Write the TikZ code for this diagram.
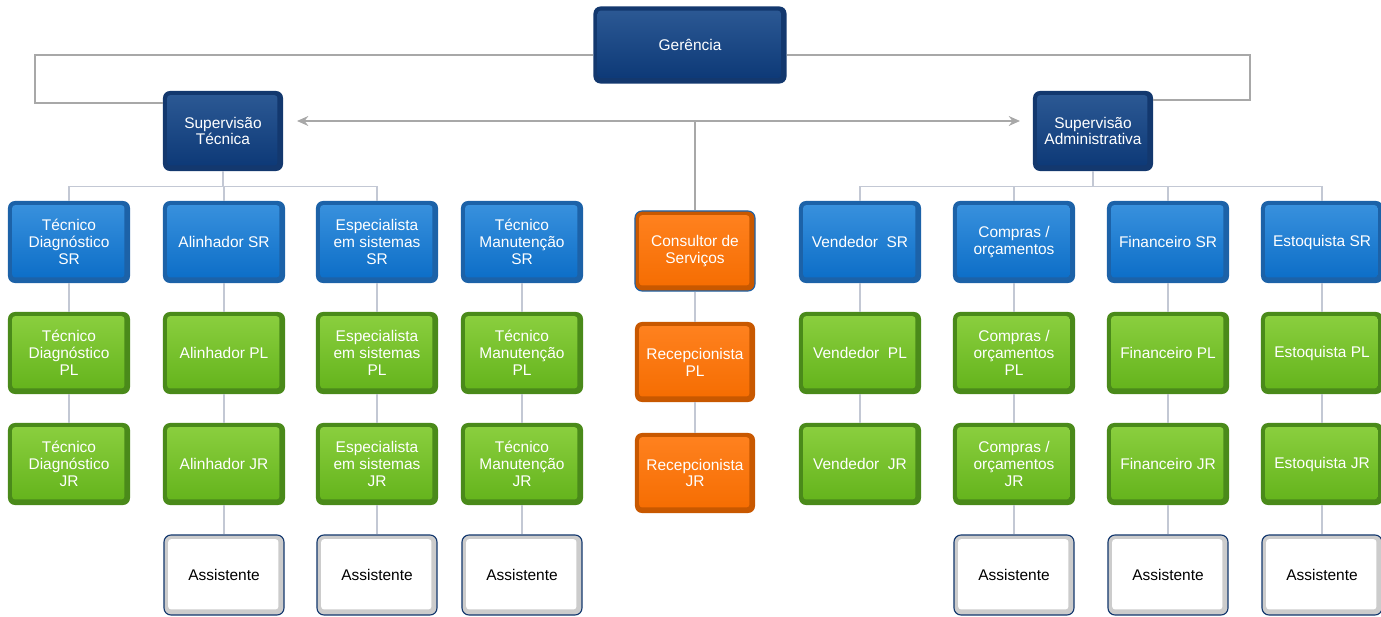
\documentclass[tikz,border=0pt]{standalone}
\usepackage{fontspec}
\setmainfont{Liberation Sans}
\usetikzlibrary{arrows.meta,positioning}

\definecolor{navyedge}{HTML}{13386E}
\definecolor{navytop}{HTML}{2D5A95}
\definecolor{navybot}{HTML}{0B3775}
\definecolor{blueedge}{HTML}{1C62A8}
\definecolor{bluetop}{HTML}{3A92DE}
\definecolor{bluebot}{HTML}{0A6CC6}
\definecolor{greenedge}{HTML}{4A8A1A}
\definecolor{greentop}{HTML}{8CD040}
\definecolor{greenbot}{HTML}{62B21A}
\definecolor{orangeedge}{HTML}{C85800}
\definecolor{orangetop}{HTML}{FF8220}
\definecolor{orangebot}{HTML}{F56C00}
\definecolor{linkgray}{HTML}{A8A8A8}
\definecolor{treegray}{HTML}{C3C8D4}

\tikzset{
  bevel/.style n args={3}{fill=#1, path picture={
      \shade[top color=#2, bottom color=#3, rounded corners=2pt]
        ([shift={(3pt,4pt)}]path picture bounding box.south west) rectangle
        ([shift={(-4pt,-3pt)}]path picture bounding box.north east);}},
  box/.style={rounded corners=5pt, align=center, inner sep=1pt, text=white,
    minimum width=3.05cm, minimum height=2.05cm,
    font=\fontsize{11}{12}\selectfont},
  boss/.style={box, minimum width=3cm, minimum height=2cm,
    bevel={navyedge}{navytop}{navybot}},
  srbox/.style={box, bevel={blueedge}{bluetop}{bluebot}},
  plbox/.style={box, bevel={greenedge}{greentop}{greenbot}},
  orbox/.style={box, minimum width=3cm, minimum height=2cm,
    bevel={orangeedge}{orangetop}{orangebot}},
  asbox/.style={box, text=black, minimum width=3cm, minimum height=2cm,
    draw=navyedge, line width=0.8pt, bevel={gray!40}{white}{white}},
  link/.style={draw=linkgray, line width=1.4pt},
  tree/.style={draw=treegray, line width=1.1pt},
}

\begin{document}
\begin{tikzpicture}[x=0.025cm, y=-0.025cm, >={Stealth[length=8pt,width=7pt]}]
  \useasboundingbox (0,0) rectangle (1381,617);

  % Top level
  \node[boss, minimum width=4.825cm, minimum height=1.925cm] (ger) at (690,45) {Gerência};
  \node[boss] (st) at (223,131) {Supervisão\\Técnica};
  \node[boss] (sa) at (1093,131) {Supervisão\\Administrativa};

  % Technical side
  \node[srbox] (td1) at (69,242) {Técnico\\Diagnóstico\\SR};
  \node[plbox] (td2) at (69,353) {Técnico\\Diagnóstico\\PL};
  \node[plbox] (td3) at (69,464) {Técnico\\Diagnóstico\\JR};

  \node[srbox] (al1) at (224,242) {Alinhador SR};
  \node[plbox] (al2) at (224,353) {Alinhador PL};
  \node[plbox] (al3) at (224,464) {Alinhador JR};
  \node[asbox] (al4) at (224,575) {Assistente};

  \node[srbox] (es1) at (377,242) {Especialista\\em sistemas\\SR};
  \node[plbox] (es2) at (377,353) {Especialista\\em sistemas\\PL};
  \node[plbox] (es3) at (377,464) {Especialista\\em sistemas\\JR};
  \node[asbox] (es4) at (377,575) {Assistente};

  \node[srbox] (tm1) at (522,242) {Técnico\\Manutenção\\SR};
  \node[plbox] (tm2) at (522,353) {Técnico\\Manutenção\\PL};
  \node[plbox] (tm3) at (522,464) {Técnico\\Manutenção\\JR};
  \node[asbox] (tm4) at (522,575) {Assistente};

  % Reception
  \node[orbox, draw=blueedge, line width=0.8pt] (cs) at (695,251) {Consultor de\\Serviços};
  \node[orbox] (rp) at (695,362) {Recepcionista\\PL};
  \node[orbox] (rj) at (695,473) {Recepcionista\\JR};

  % Administrative side
  \node[srbox] (ve1) at (860,242) {Vendedor~ SR};
  \node[plbox] (ve2) at (860,353) {Vendedor~ PL};
  \node[plbox] (ve3) at (860,464) {Vendedor~ JR};

  \node[srbox] (co1) at (1014,242) {Compras /\\orçamentos};
  \node[plbox] (co2) at (1014,353) {Compras /\\orçamentos\\PL};
  \node[plbox] (co3) at (1014,464) {Compras /\\orçamentos\\JR};
  \node[asbox] (co4) at (1014,575) {Assistente};

  \node[srbox] (fi1) at (1168,242) {Financeiro SR};
  \node[plbox] (fi2) at (1168,353) {Financeiro PL};
  \node[plbox] (fi3) at (1168,464) {Financeiro JR};
  \node[asbox] (fi4) at (1168,575) {Assistente};

  \node[srbox] (eq1) at (1322,242) {Estoquista SR};
  \node[plbox] (eq2) at (1322,353) {Estoquista PL};
  \node[plbox] (eq3) at (1322,464) {Estoquista JR};
  \node[asbox] (eq4) at (1322,575) {Assistente};

  % Links from the management
  \coordinate (lc) at (35,55);
  \coordinate (lt) at (35,103);
  \coordinate (rc) at (1250,55);
  \coordinate (rt) at (1250,100);
  \draw[link] (ger.west |- lc) -- (lc) -- (lt) -- (st.west |- lt);
  \draw[link] (ger.east |- rc) -- (rc) -- (rt) -- (sa.east |- rt);

  \coordinate (al) at (297,121);
  \coordinate (ar) at (1020,121);
  \coordinate (mid) at (695,121);
  \draw[link, <->] (al) -- (ar);
  \draw[link] (mid) -- (cs.north);

  % Tree below the supervisors
  \foreach \n in {td1,al1,es1}
    \draw[tree] (st.south) -- ++(0,15) -| (\n.north);
  \foreach \n in {ve1,co1,fi1,eq1}
    \draw[tree] (sa.south) -- ++(0,15) -| (\n.north);

  \foreach \a/\b in {td1/td2, td2/td3, al1/al2, al2/al3, al3/al4,
      es1/es2, es2/es3, es3/es4, tm1/tm2, tm2/tm3, tm3/tm4, cs/rp, rp/rj,
      ve1/ve2, ve2/ve3, co1/co2, co2/co3, co3/co4, fi1/fi2, fi2/fi3,
      fi3/fi4, eq1/eq2, eq2/eq3, eq3/eq4}
    \draw[tree] (\a) -- (\b);
\end{tikzpicture}
\end{document}
